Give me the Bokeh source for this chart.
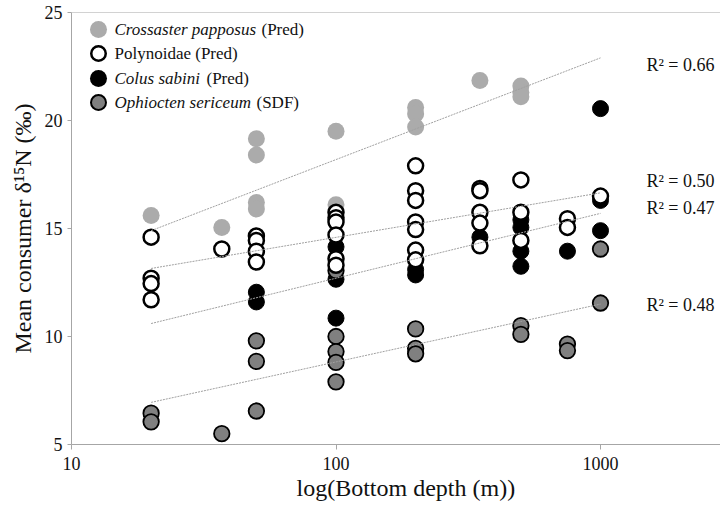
import math
from bokeh.plotting import figure
from bokeh.models import Range1d, FixedTicker, PrintfTickFormatter, Span, Label, Title, ColumnDataSource
from bokeh.core.properties import value
from bokeh.embed import file_html
from bokeh.resources import INLINE

# ---------------- data ----------------
cross_depth = [20, 37, 50, 50, 50, 50, 100, 100, 200, 200, 200, 350, 500, 500, 500]
cross_d15n = [15.6, 15.05, 19.15, 18.4, 16.2, 15.9, 19.5, 16.1, 20.6, 20.3, 19.7, 21.85, 21.6, 21.3, 21.1]

poly_depth = [20, 20, 20, 20, 37, 50, 50, 50, 50,
              100, 100, 100, 100, 100, 100,
              200, 200, 200, 200, 200, 200, 200,
              350, 350, 350, 350, 350, 500, 500, 500, 750, 750, 1000]
poly_d15n = [14.6, 12.7, 12.45, 11.7, 14.05, 14.65, 14.45, 13.95, 13.45,
             15.75, 15.5, 15.3, 14.7, 13.6, 13.3,
             17.9, 16.75, 16.3, 15.3, 14.95, 14.0, 13.55,
             16.85, 16.75, 15.75, 15.25, 14.2, 17.25, 15.75, 14.45, 15.45, 15.05, 16.5]

colus_depth = [50, 50, 100, 100, 100, 200, 200, 350, 500, 500, 500, 500, 750, 1000, 1000, 1000]
colus_d15n = [12.05, 11.6, 14.15, 12.65, 10.85, 13.1, 12.85, 14.6, 15.4, 15.05, 13.95, 13.25, 13.95, 20.55, 16.3, 14.9]

ophio_depth = [20, 20, 37, 50, 50, 50, 100, 100, 100, 100, 100, 200, 200, 200, 500, 500, 750, 750, 1000, 1000]
ophio_d15n = [6.45, 6.05, 5.5, 9.8, 8.85, 6.55, 13.05, 10.0, 9.3, 8.8, 7.9, 10.35, 9.45, 9.2, 10.5, 10.1, 9.65, 9.35, 14.05, 11.55]

# trend lines (start/end values at the depth extremes)
trend_depth = [20, 1000]
trend_cross = [14.9, 22.9]
trend_poly = [13.15, 16.65]
trend_colus = [10.6, 15.7]
trend_ophio = [6.95, 11.5]

r2_text = ["R\u00b2 = 0.66", "R\u00b2 = 0.50", "R\u00b2 = 0.47", "R\u00b2 = 0.48"]
r2_y = [22.55, 17.22, 15.97, 11.48]

y_ticks = [5, 10, 15, 20, 25]
x_ticks = [10, 100, 1000]

legend_italic = ["Crossaster papposus", "", "Colus sabini", "Ophiocten sericeum"]
legend_plain = ["(Pred)", "Polynoidae (Pred)", "(Pred)", "(SDF)"]

x_title = "log(Bottom depth (m))"
y_title = "Mean consumer \u03b4\u00b9\u2075N (\u2030)"

# ---------------- layout ----------------
W, H = 720, 507
LEFT, TOP, BOTTOM = 71, 12, 63
DECADE = 264.5
frame_w = W - LEFT
x_end = 10 ** (1 + frame_w / DECADE)
PX_PER_UNIT = (H - TOP - BOTTOM) / 20.0

def px2x(px):
    return 10 ** (1 + (px - LEFT) / DECADE)

def px2y(py):
    return 25 - (py - TOP) / PX_PER_UNIT

FONT = "Liberation Serif"
AX = "#a6a6a6"
TXT = "#111111"
C_CROSS = "#ababab"
C_OPHIO = "#808080"

p = figure(width=W, height=H, x_axis_type="log",
           x_range=Range1d(10, x_end), y_range=Range1d(5, 25),
           output_backend="svg", toolbar_location=None,
           min_border_left=LEFT, min_border_right=0,
           min_border_top=TOP, min_border_bottom=BOTTOM)
p.outline_line_color = None
p.xgrid.visible = False
p.ygrid.visible = False
p.background_fill_color = "white"
p.border_fill_color = "white"

for ax in (p.xaxis[0], p.yaxis[0]):
    ax.axis_line_color = AX
    ax.major_tick_line_color = AX
    ax.minor_tick_line_color = None
    ax.major_tick_in = 0
    ax.major_label_text_font = FONT
    ax.major_label_text_font_size = "18px"
    ax.major_label_text_color = TXT
p.xaxis[0].ticker = FixedTicker(ticks=x_ticks)
p.xaxis[0].formatter = PrintfTickFormatter(format="%d")
p.xaxis[0].major_tick_out = 5
p.xaxis[0].major_label_standoff = 7
p.yaxis[0].ticker = FixedTicker(ticks=y_ticks)
p.yaxis[0].major_tick_out = 4
p.yaxis[0].major_label_standoff = 5

p.add_layout(Span(location=25, dimension="width", line_color=AX, line_width=1))

# points (draw order as in reference)
p.scatter(cross_depth, cross_d15n, size=17, fill_color=C_CROSS, line_color=None)
p.scatter(colus_depth, colus_d15n, size=16, fill_color="black", line_color="black", line_width=1)
p.scatter(ophio_depth, ophio_d15n, size=15.5, fill_color=C_OPHIO, line_color="black", line_width=1.8)
p.scatter(poly_depth, poly_d15n, size=15, fill_color="white", line_color="black", line_width=2.5)

# trend lines
for ys in (trend_cross, trend_poly, trend_colus, trend_ophio):
    p.line(trend_depth, ys, line_color="#a0a0a0", line_width=1, line_dash="2 1")

# R² labels
r2_src = ColumnDataSource(dict(x=[px2x(714)] * len(r2_y), y=r2_y, t=r2_text))
p.text(x="x", y="y", text="t", source=r2_src, text_align="right", text_baseline="middle",
       text_font=value(FONT), text_font_size="18px", text_color=TXT)

# legend (manual, to mix italic and upright text)
leg_py = [29, 53, 78, 102]
leg_x = px2x(98)
leg_y = [px2y(v) for v in leg_py]
p.scatter([leg_x], [leg_y[0]], size=17, fill_color=C_CROSS, line_color=None)
p.scatter([leg_x], [leg_y[1]], size=14.5, fill_color="white", line_color="black", line_width=2.5)
p.scatter([leg_x], [leg_y[2]], size=17, fill_color="black", line_color=None)
p.scatter([leg_x], [leg_y[3]], size=15, fill_color=C_OPHIO, line_color="black", line_width=2)
plain_px = [261, 114, 206, 256]
for i in range(4):
    if legend_italic[i]:
        p.add_layout(Label(x=px2x(114), y=leg_y[i], text=legend_italic[i], text_font=FONT,
                           text_font_size="17px", text_font_style="italic",
                           text_baseline="middle", text_color=TXT))
    p.add_layout(Label(x=px2x(plain_px[i]), y=leg_y[i], text=legend_plain[i], text_font=FONT,
                       text_font_size="17px", text_baseline="middle", text_color=TXT))

# axis titles as side-panel titles
p.add_layout(Title(text=x_title, align="left", offset=225, standoff=0,
                   text_font=FONT, text_font_size="24px", text_font_style="normal",
                   text_color=TXT), "below")
p.add_layout(Title(text=y_title, align="center", standoff=12,
                   text_font=FONT, text_font_size="24px", text_font_style="normal",
                   text_color=TXT), "left")

open("out.html", "w").write(file_html(p, INLINE))
